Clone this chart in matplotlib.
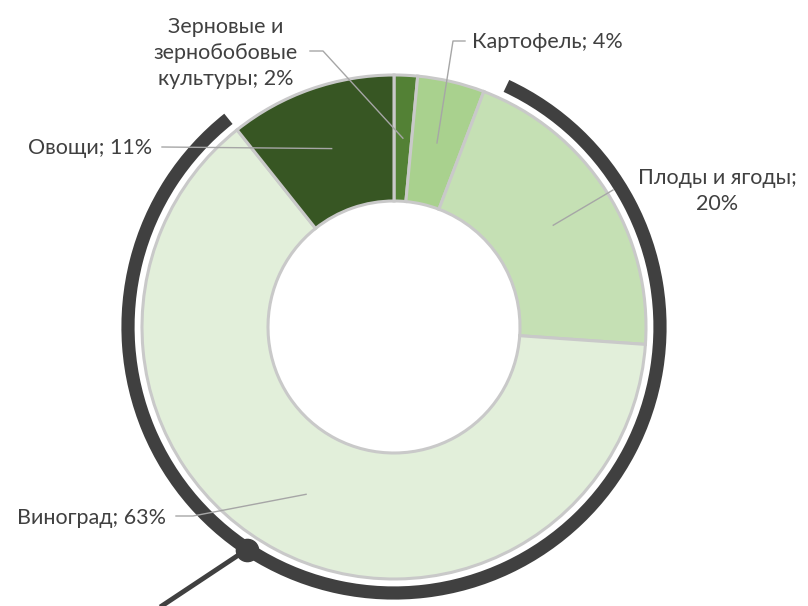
import numpy as np
import matplotlib.pyplot as plt
from matplotlib.patches import Arc

plt.rcParams['font.family'] = ['Lato', 'DejaVu Sans']

categories = ['Зерновые и\nзернобобовые\nкультуры', 'Картофель', 'Плоды и ягоды',
              'Виноград', 'Овощи']
shares = [1.5, 4.3, 20.3, 63.2, 10.7]
colors = ['#538135', '#a9d18e', '#c5e0b4', '#e2efda', '#375623']

W, H = 808, 606
cx, cy, R = 394, H - 327, 252

fig = plt.figure(figsize=(W / 100, H / 100), dpi=100)
ax = fig.add_axes([0, 0, 1, 1])

ax.pie(shares, colors=colors, startangle=90, counterclock=False,
       center=(cx, cy), radius=R, frame=True,
       wedgeprops=dict(width=R / 2, edgecolor='#c9c9c9', linewidth=2.2))
ax.set_xlim(0, W)
ax.set_ylim(0, H)
ax.set_aspect('equal')
ax.axis('off')

# decorative dark ring around the donut
dark = '#404040'
ax.add_patch(Arc((cx, cy), 2 * 266, 2 * 266, theta1=128.5, theta2=425,
                 color=dark, linewidth=9.5, capstyle='butt'))
dot_a = np.radians(-123.5)
dx, dy = cx + 267 * np.cos(dot_a), cy + 267 * np.sin(dot_a)
ax.plot([dx, dx - 110], [dy, dy - 73], color=dark, linewidth=3.5,
        solid_capstyle='butt')
ax.plot(dx, dy, 'o', color=dark, markersize=16)

# label positions (pixel coords, y from top), leader elbow/stub points
label_xy = [(226, 53), (472, 42), (717, 191), (166, 518), (152, 148)]
label_ha = ['center', 'left', 'center', 'right', 'right']
leader_pts = [[(323, 51), (310, 51)], [(453, 41), (465, 41)], [(613, 190)],
              [(193, 516), (176, 516)], [(162, 147)]]

cum = np.cumsum([0] + shares[:-1])
txt_color = '#404040'
for i, name in enumerate(categories):
    mid = np.radians(90 - 3.6 * (cum[i] + shares[i] / 2))
    px, py = cx + 189 * np.cos(mid), cy + 189 * np.sin(mid)
    xs = [px] + [p[0] for p in leader_pts[i]]
    ys = [py] + [H - p[1] for p in leader_pts[i]]
    ax.plot(xs, ys, color='#a6a6a6', linewidth=1)
    pct = f'{shares[i]:.0f}%'
    if name == 'Плоды и ягоды':
        label = f'{name};\n{pct}'
    else:
        label = f'{name}; {pct}'
    ax.text(label_xy[i][0], H - label_xy[i][1], label, ha=label_ha[i],
            va='center', fontsize=15.5, color=txt_color, linespacing=1.4,
            multialignment='center')

plt.savefig('out.png', dpi=100)
